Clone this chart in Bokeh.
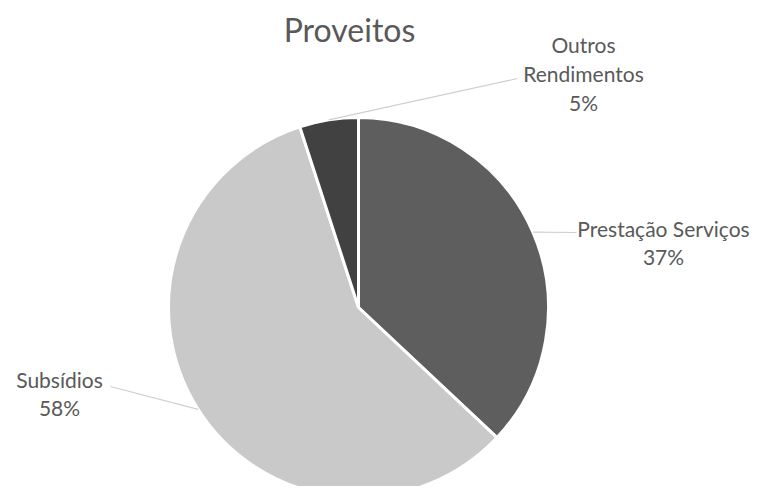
import math
from bokeh.plotting import figure
from bokeh.models import Range1d, ColumnDataSource
from bokeh.core.properties import value
from bokeh.embed import file_html
from bokeh.resources import INLINE

# ---- data ----
categories = ["Prestação Serviços", "Subsídios", "Outros Rendimentos"]
shares = [37, 58, 5]
label_lines = ["Prestação Serviços\n37%", "Subsídios\n58%", "Outros\nRendimentos\n5%"]
title_text = "Proveitos"

# ---- style / layout ----
colors = ["#5e5e5e", "#c9c9c9", "#414141"]
W, H = 751, 486
cx, cy_pix, R = 358, 307, 190
label_pos = [(663, 242), (59, 393), (583, 73)]     # pixel centres of the label blocks
leader_end = [(576, 232), (110, 386), (517, 78)]   # pixel end of leader lines
FONT = "Lato"
TXT = "#595959"

def ty(y_pix):
    return H - y_pix

p = figure(width=W, height=H, output_backend="svg", toolbar_location=None,
           x_range=Range1d(0, W), y_range=Range1d(0, H),
           min_border=0, outline_line_color=None)
p.axis.visible = False
p.grid.visible = False
p.background_fill_color = "white"

total = float(sum(shares))
starts, ends, mids = [], [], []
acc = 0.0
for s in shares:
    f0 = acc / total
    acc += s
    f1 = acc / total
    starts.append(math.pi / 2 - f0 * 2 * math.pi)
    ends.append(math.pi / 2 - f1 * 2 * math.pi)
    mids.append((f0 + f1) / 2 * 2 * math.pi)  # clockwise from top

src = ColumnDataSource(dict(cat=categories, val=shares, start=starts, end=ends, color=colors))
p.wedge(x=cx, y=ty(cy_pix), radius=R, start_angle="start", end_angle="end",
        direction="clock", fill_color="color", line_color="white", line_width=3, source=src)

# leader lines
for m, (ex, ey) in zip(mids, leader_end):
    sx = cx + R * math.sin(m)
    sy = cy_pix - R * math.cos(m)
    p.line([sx, ex], [ty(sy), ty(ey)], line_color="#cfcfcf", line_width=1.2)

lsrc = ColumnDataSource(dict(x=[a for a, b in label_pos], y=[ty(b) for a, b in label_pos], t=label_lines))
p.text(x="x", y="y", text="t", source=lsrc, text_font=value(FONT), text_font_size="21px",
       text_color=TXT, text_align="center", text_baseline="middle", text_line_height=1.15)

p.text(x=[349], y=[ty(29)], text=[title_text], text_font=value(FONT), text_font_size="32px",
       text_color=TXT, text_align="center", text_baseline="middle")

open("out.html", "w").write(file_html(p, INLINE))
